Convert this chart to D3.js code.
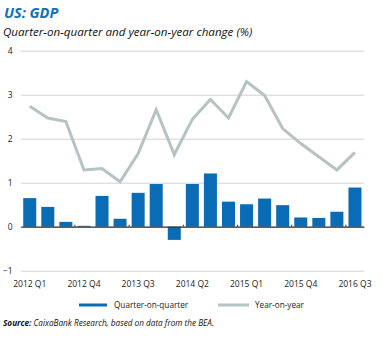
<!DOCTYPE html>
<html>
<head>
<meta charset="utf-8">
<script src="https://cdn.jsdelivr.net/npm/d3@7"></script>
<style>
  body { margin: 0; background: #fff; }
  svg { display: block; font-family: "Open Sans", sans-serif; }
</style>
</head>
<body>
<svg width="382" height="338"></svg>
<script>
// quarters, 2012 Q1 .. 2016 Q3
var quarters = ["2012 Q1", "2012 Q2", "2012 Q3", "2012 Q4", "2013 Q1", "2013 Q2", "2013 Q3",
    "2013 Q4", "2014 Q1", "2014 Q2", "2014 Q3", "2014 Q4", "2015 Q1", "2015 Q2", "2015 Q3",
    "2015 Q4", "2016 Q1", "2016 Q2", "2016 Q3"];
var qoq = [0.65, 0.45, 0.11, 0.02, 0.70, 0.18, 0.77, 0.97, -0.30, 0.97,
    1.21, 0.57, 0.51, 0.64, 0.49, 0.21, 0.20, 0.34, 0.89];
var yoy = [2.74, 2.47, 2.39, 1.29, 1.32, 1.02, 1.66, 2.66, 1.64, 2.44,
    2.89, 2.47, 3.30, 2.98, 2.23, 1.89, 1.59, 1.29, 1.69];
var xTickLabels = ["2012 Q1", "2012 Q4", "2013 Q3", "2014 Q2", "2015 Q1", "2015 Q4", "2016 Q3"];
var yTicks = [-1, 0, 1, 2, 3, 4];

var blue = "#0a6cb5", grey = "#b5c3c5";

var svg = d3.select("svg");

var x = d3.scaleBand()
    .domain(quarters)
    .range([20.7, 364])
    .paddingInner(0.28)
    .paddingOuter(0.14);

var y = d3.scaleLinear()
    .domain([-1, 4])
    .range([270.7, 50.7]);

// title
svg.append("text")
    .attr("x", 4).attr("y", 18)
    .attr("fill", "#0b72bf")
    .style("font-size", "14.5px")
    .style("font-weight", "bold")
    .style("font-style", "italic")
    .text("US: GDP");

svg.append("text")
    .attr("x", 3).attr("y", 36)
    .attr("fill", "#111")
    .style("font-size", "11.6px")
    .style("font-style", "italic")
    .text("Quarter-on-quarter and year-on-year change (%)");

// gridlines + y labels
var yAxis = d3.axisLeft(y).tickValues(yTicks).tickSize(-(364 - 20.7)).tickFormat(d3.format("d"));
var gy = svg.append("g")
    .attr("transform", "translate(20.7,0)")
    .call(yAxis);
gy.select(".domain").remove();
gy.selectAll(".tick line").attr("stroke", "#d2d2d2").attr("stroke-width", 1);
gy.selectAll(".tick text")
    .attr("x", -8)
    .attr("fill", "#222")
    .style("font-size", "8.5px")
    .style("font-family", "'Open Sans', sans-serif");

// bars
svg.append("g")
    .selectAll("rect")
    .data(qoq)
    .enter()
    .append("rect")
    .attr("x", function (d, i) { return x(quarters[i]); })
    .attr("width", x.bandwidth())
    .attr("y", function (d) { return y(Math.max(0, d)); })
    .attr("height", function (d) { return Math.abs(y(d) - y(0)); })
    .attr("fill", blue);

// zero axis
var gx = svg.append("g")
    .attr("transform", "translate(0," + y(0) + ")")
    .call(d3.axisBottom(x).tickSize(0).tickValues([]));
gx.select(".domain").attr("stroke", "#333").attr("stroke-width", 1.2);

// small ticks at left edge of labelled quarters
svg.append("g")
    .selectAll("line")
    .data(xTickLabels.slice(1))
    .enter()
    .append("line")
    .attr("x1", function (d) { return x(d) - x.step() * x.paddingInner() / 2; })
    .attr("x2", function (d) { return x(d) - x.step() * x.paddingInner() / 2; })
    .attr("y1", y(0) - 2)
    .attr("y2", y(0))
    .attr("stroke", "#333");

// x labels
svg.append("g")
    .selectAll("text")
    .data(xTickLabels)
    .enter()
    .append("text")
    .attr("x", function (d) { return x(d) + x.bandwidth() / 2; })
    .attr("y", 287)
    .attr("text-anchor", "middle")
    .attr("fill", "#222")
    .style("font-size", "8.5px")
    .text(function (d) { return d; });

// year-on-year line
var line = d3.line()
    .x(function (d, i) { return x(quarters[i]) + x.bandwidth() / 2; })
    .y(function (d) { return y(d); });

svg.append("path")
    .datum(yoy)
    .attr("d", line)
    .attr("fill", "none")
    .attr("stroke", grey)
    .attr("stroke-width", 3)
    .attr("stroke-linejoin", "miter");

// legend
var legend = svg.append("g");
legend.append("rect").attr("x", 79).attr("y", 303.5).attr("width", 28).attr("height", 3).attr("fill", blue);
legend.append("text").attr("x", 114).attr("y", 307.5).attr("fill", "#222")
    .style("font-size", "8.2px").text("Quarter-on-quarter");
legend.append("rect").attr("x", 218).attr("y", 303.5).attr("width", 31).attr("height", 3).attr("fill", grey);
legend.append("text").attr("x", 255).attr("y", 307.5).attr("fill", "#222")
    .style("font-size", "8.2px").text("Year-on-year");

// source
var src = svg.append("text")
    .attr("x", 3).attr("y", 326)
    .attr("fill", "#111")
    .style("font-size", "8.2px")
    .style("font-style", "italic");
src.append("tspan").style("font-weight", "bold").text("Source:");
src.append("tspan").text(" CaixaBank Research, based on data from the BEA.");
</script>
</body>
</html>
